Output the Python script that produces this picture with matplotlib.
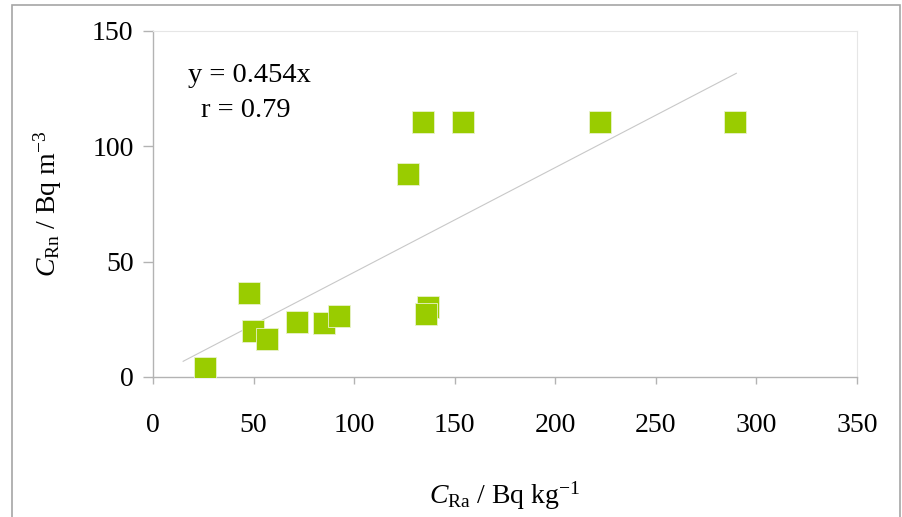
import matplotlib
matplotlib.use("Agg")
import matplotlib.pyplot as plt
from matplotlib.patches import Rectangle
import numpy as np

plt.rcParams['font.family'] = ['Liberation Serif', 'DejaVu Serif']
plt.rcParams['mathtext.fontset'] = 'custom'
plt.rcParams['mathtext.rm'] = 'Liberation Serif'
plt.rcParams['mathtext.it'] = 'Liberation Serif:italic'

# Data
c_ra = [26.1, 47.8, 49.6, 56.5, 71.4, 85.2, 92.5, 136.5, 135.8, 127.0, 134.3, 154.0, 222.0, 289.4]
c_rn = [3.9, 36.5, 20.1, 16.5, 24.0, 23.4, 26.5, 30.4, 27.2, 88.0, 110.5, 110.5, 110.5, 110.5]
slope = 0.454
fit_x = [15, 290]
x_ticks = [0, 50, 100, 150, 200, 250, 300, 350]
y_ticks = [0, 50, 100, 150]

fig = plt.figure(figsize=(9.02, 5.17), dpi=100)
fig.patches.append(Rectangle((12/902, -0.05), (900-12)/902, 1.05 - 5/517,
                             transform=fig.transFigure, fill=False,
                             edgecolor='#a6a6a6', linewidth=1.2))
ax = fig.add_axes([153/902, 1-377/517, (857-153)/902, (377-31)/517])

fx = np.array(fit_x, dtype=float)
ax.plot(fx, slope*fx, color='#c8c8c8', linewidth=0.8, zorder=2)
ax.plot(c_ra, c_rn, linestyle='none', marker='s', markersize=15.5,
        markerfacecolor='#99CC00', markeredgecolor='#e8f2cc', markeredgewidth=0.6, zorder=3)

ax.set_xlim(0, 350)
ax.set_ylim(0, 150)
ax.set_xticks(x_ticks)
ax.set_yticks(y_ticks)
for s in ['top', 'right']:
    ax.spines[s].set_color('#e6e6e6')
    ax.spines[s].set_linewidth(0.8)
for s in ['left', 'bottom']:
    ax.spines[s].set_color('#b3b3b3')
    ax.spines[s].set_linewidth(1.0)
ax.tick_params(axis='both', direction='out', width=1.0, color='#b3b3b3',
               labelsize=20, labelcolor='black')
ax.tick_params(axis='x', length=5, pad=21)
ax.tick_params(axis='y', length=7, pad=7)

ax.set_xlabel(r'$C_{\mathrm{Ra}}$ / Bq kg$^{-1}$', fontsize=20, labelpad=30)
ax.set_ylabel(r'$C_{\mathrm{Rn}}$ / Bq m$^{-3}$', fontsize=20, labelpad=20)

ax.text(47.7, 130.9, 'y = 0.454x', ha='center', va='center', fontsize=20.5)
ax.text(46.1, 115.7, 'r = 0.79', ha='center', va='center', fontsize=20.5)

fig.savefig('out.png', dpi=100)
